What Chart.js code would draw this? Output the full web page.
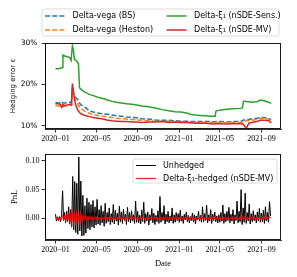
<!DOCTYPE html>
<html>
<head>
<meta charset="utf-8">
<script src="https://cdn.jsdelivr.net/npm/chart.js@4/dist/chart.umd.min.js"></script>
<style>
  html, body { margin: 0; padding: 0; background: #fff; }
  #wrap { position: relative; width: 297px; height: 277px; }
  canvas { position: absolute; left: 0; top: 0; }
</style>
</head>
<body>
<div id="wrap">
  <canvas id="top" width="297" height="277"></canvas>
  <canvas id="bot" width="297" height="277"></canvas>
</div>
<script>
// ---- x axis: days since 2020-01-01 ----
const tickDays = [0, 121, 244, 366, 486, 609];
const tickLabels = ["2020\u221201", "2020\u221205", "2020\u221209", "2021\u221201", "2021\u221205", "2021\u221209"];

// ---- top panel: hedging error (%) ----
const errDays = [0,7,14,16,20,22,28,35,42,46,48,50,53,56,60,65,68,71,76,83,90,100,112,125,140,152,167,180,195,210,226,240,255,275,295,315,335,354,370,388,398,413,428,445,457,472,475,490,507,525,546,553,556,560,566,572,581,595,607,620,630,638];
const errBS = [15.6,15.5,15.5,15.3,15.4,15.6,15.5,15.6,15.7,15.6,
  16.5,18.6,17.8,17.5,16.8,16.4,16.0,15.5,15.0,14.6,
  14.3,13.6,13.3,13.1,12.9,12.8,12.6,12.4,12.3,12.1,
  12.0,11.9,11.7,11.6,11.4,11.3,11.3,11.2,11.1,11.1,
  11.0,11.0,11.0,11.0,11.0,10.9,11.0,11.0,10.9,11.0,
  11.0,11.2,11.4,11.4,11.5,11.5,11.7,11.8,12.0,11.9,
  11.8,11.4];
const errHeston = [14.9,14.8,14.7,14.6,14.5,14.8,14.7,14.9,15.0,15.0,
  16.0,18.3,17.3,16.8,16.0,15.5,15.0,14.6,14.1,13.7,
  13.4,13.0,12.7,12.5,12.3,12.2,12.0,11.8,11.7,11.6,
  11.5,11.4,11.3,11.2,11.1,11.1,11.1,11.0,11.0,10.9,
  10.8,10.8,10.8,10.8,10.8,10.7,10.8,10.8,10.7,10.8,
  10.8,10.9,11.1,11.1,11.2,11.2,11.3,11.5,11.8,11.7,
  11.6,11.2];
const errSens = [23.8,23.8,23.9,24.0,24.1,27.1,26.9,26.7,26.5,25.8,
  25.8,29.3,28.4,26.0,25.9,25.4,25.0,19.2,18.8,18.3,
  18.0,17.6,17.3,16.9,16.6,16.3,15.9,15.7,15.5,15.3,
  15.2,15.0,14.8,14.6,14.3,13.9,13.6,13.4,13.3,13.1,
  12.8,12.6,12.5,12.4,12.3,12.3,13.6,13.8,14.0,14.1,
  14.2,14.3,15.9,15.9,15.8,15.8,15.7,15.8,16.2,16.0,
  15.7,15.4];
const errMV = [15.3,15.3,15.2,14.8,14.6,15.1,14.9,15.0,15.2,15.0,
  17.0,20.2,18.5,16.5,15.0,14.0,13.5,13.2,12.9,12.6,
  12.4,12.2,12.0,11.8,11.6,11.4,11.2,11.1,11.0,11.0,
  10.9,10.9,10.8,10.9,10.9,11.0,10.8,10.9,10.8,10.8,
  10.7,10.6,10.6,10.6,10.5,10.4,10.5,10.5,10.4,10.5,
  10.5,10.4,10.3,9.7,9.6,10.6,10.8,11.0,11.3,11.3,
  11.2,10.7];
const errTicks = [10, 20, 30];

// ---- bottom panel: PnL, one value every 3 days from 2020-01-01 ----
const pnlStartDay = 0, pnlStepDays = 3;
const pnlUnhedged = [0.007,-0.005,0.002,-0.004,0.003,-0.006,0.004,0.048,-0.004,0.010,
  -0.008,0.012,-0.006,0.020,-0.010,0.015,-0.015,0.073,-0.020,0.064,
  -0.025,0.061,-0.028,0.107,-0.022,0.065,-0.031,0.040,-0.030,0.022,
  -0.026,0.035,-0.018,0.028,-0.020,0.024,-0.015,0.031,-0.017,0.020,
  -0.012,0.033,-0.010,0.015,-0.012,0.022,-0.008,0.012,-0.014,0.026,
  -0.009,0.010,-0.006,0.018,-0.011,0.008,-0.007,0.024,-0.010,0.014,
  -0.005,0.009,-0.012,0.021,-0.006,0.011,-0.009,0.016,-0.004,0.007,
  -0.011,0.019,-0.006,0.010,-0.008,0.013,-0.005,0.006,-0.009,0.030,
  -0.007,0.012,-0.008,0.005,-0.010,0.014,-0.006,0.028,-0.009,0.008,
  -0.005,0.011,-0.012,0.006,-0.004,0.017,-0.008,0.009,-0.011,0.005,
  -0.006,0.013,-0.009,0.038,-0.007,0.010,-0.004,0.022,-0.010,0.007,
  -0.006,0.012,-0.008,0.004,-0.005,0.018,-0.009,0.006,-0.007,0.010,
  -0.004,0.008,-0.007,0.014,-0.005,0.004,-0.009,0.007,-0.003,0.011,
  -0.006,0.005,-0.008,0.003,-0.004,0.009,-0.006,0.006,-0.010,0.004,
  -0.003,0.012,-0.005,0.005,-0.007,0.020,-0.006,0.008,-0.004,0.023,
  -0.008,0.006,-0.005,0.015,-0.009,0.007,-0.004,0.011,-0.006,0.004,
  -0.008,0.006,-0.007,0.010,-0.005,0.023,-0.009,0.008,-0.006,0.012,
  -0.004,0.019,-0.008,0.007,-0.005,0.015,-0.010,0.006,-0.004,0.030,
  -0.008,0.012,-0.006,0.050,-0.011,0.018,-0.007,0.044,-0.009,0.010,
  -0.005,0.025,-0.010,0.008,-0.006,0.013,-0.004,0.006,-0.008,0.011,
  -0.005,0.017,-0.007,0.009,-0.006,0.014,-0.009,0.020,-0.005,0.010,
  -0.007,0.029,0.004];
const pnlHedged = [0.001,-0.001,0.002,-0.002,0.001,-0.003,0.002,0.004,-0.002,0.003,
  -0.004,0.005,-0.003,0.004,-0.006,0.006,-0.009,0.008,-0.007,0.010,
  -0.012,0.007,-0.006,0.005,-0.008,0.006,-0.004,0.003,-0.003,0.004,
  -0.002,0.002,-0.003,0.002,-0.001,0.003,-0.002,0.001,-0.002,0.002,
  -0.001,0.002,-0.001,0.001,-0.002,0.001,0.000,-0.001,0.002,-0.001,
  0.001,-0.002,0.001,0.000,-0.001,0.002,-0.001,0.001,-0.002,0.001,
  0.000,-0.001,0.002,-0.002,0.001,0.000,-0.001,0.001,-0.002,0.002,
  -0.001,0.001,0.000,-0.001,0.002,-0.001,0.001,-0.002,0.001,0.002,
  -0.001,0.001,-0.001,0.000,0.002,-0.002,0.001,0.001,-0.001,0.000,
  -0.002,0.002,-0.001,0.001,0.000,-0.001,0.002,-0.001,0.001,-0.002,
  0.001,0.000,-0.001,0.002,-0.001,0.001,-0.002,0.001,0.000,-0.001,
  0.002,-0.001,0.001,-0.002,0.002,0.000,-0.001,0.001,-0.001,0.002,
  -0.002,0.001,0.000,-0.001,0.001,-0.002,0.002,-0.001,0.001,0.000,
  -0.001,0.002,-0.002,0.001,0.000,-0.001,0.001,-0.002,0.002,-0.001,
  0.001,0.000,-0.001,0.002,-0.001,0.001,-0.002,0.001,0.000,-0.001,
  0.002,-0.002,0.001,0.000,-0.001,0.002,-0.001,0.001,-0.002,0.001,
  0.000,-0.001,0.002,-0.001,0.001,-0.002,0.002,0.000,-0.001,0.001,
  -0.002,0.001,0.000,-0.001,0.002,-0.001,0.001,-0.002,0.001,0.002,
  -0.001,0.000,0.003,-0.002,0.002,-0.001,0.001,0.003,-0.002,0.001,
  0.000,-0.001,0.002,-0.001,0.001,-0.002,0.001,0.000,-0.001,0.002,
  -0.001,0.001,-0.002,0.002,0.000,-0.001,0.001,-0.002,0.002,-0.001,
  0.001,0.002,0.001];
const pnlTicks = [0, 0.05, 0.10];

// ---- helpers ----
const xy = (xs, ys) => ys.map((v, i) => ({ x: xs[i], y: v }));
const stepXY = (start, step, ys) => ys.map((v, i) => ({ x: start + i * step, y: v }));

const framePlugin = {
  id: 'frame',
  afterDraw(chart) {
    const { ctx, chartArea: a } = chart;
    ctx.save();
    ctx.strokeStyle = '#000';
    ctx.lineWidth = 0.9;
    ctx.strokeRect(Math.round(a.left) + 0.5, Math.round(a.top) + 0.5,
                   Math.round(a.right - a.left) - 1, Math.round(a.bottom - a.top) - 1);
    ctx.restore();
  }
};

const boxLegend = {
  id: 'boxLegend',
  afterDraw(chart, args, o) {
    const ctx = chart.ctx;
    ctx.save();
    const b = o.box, r = 2;
    ctx.beginPath();
    ctx.moveTo(b.x + r, b.y);
    ctx.arcTo(b.x + b.w, b.y, b.x + b.w, b.y + b.h, r);
    ctx.arcTo(b.x + b.w, b.y + b.h, b.x, b.y + b.h, r);
    ctx.arcTo(b.x, b.y + b.h, b.x, b.y, r);
    ctx.arcTo(b.x, b.y, b.x + b.w, b.y, r);
    ctx.closePath();
    ctx.fillStyle = 'rgba(255,255,255,0.85)';
    ctx.fill();
    ctx.strokeStyle = '#d4d4d4';
    ctx.lineWidth = 0.8;
    ctx.stroke();
    o.items.forEach(it => {
      const ds = chart.data.datasets[it.index];
      ctx.beginPath();
      ctx.setLineDash(ds.borderDash || []);
      ctx.strokeStyle = ds.borderColor;
      ctx.lineWidth = ds.borderWidth;
      ctx.moveTo(it.x, it.y);
      ctx.lineTo(it.x + o.handle, it.y);
      ctx.stroke();
      ctx.setLineDash([]);
      ctx.fillStyle = '#000';
      ctx.font = o.font;
      ctx.textBaseline = 'middle';
      ctx.textAlign = 'left';
      ctx.fillText(ds.label, it.x + o.handle + o.gap, it.y);
    });
    ctx.restore();
  }
};

function xScale(height, title) {
  return {
    type: 'linear', min: -31, max: 667,
    afterFit: s => { s.height = height; },
    afterBuildTicks: s => { s.ticks = tickDays.map(v => ({ value: v })); },
    ticks: {
      callback: v => tickLabels[tickDays.indexOf(v)] || '',
      font: { family: 'Liberation Serif', size: 8 }, color: '#000',
      padding: 1.5, maxRotation: 0, autoSkip: false
    },
    grid: { drawOnChartArea: false, drawTicks: true, tickLength: 3.5, color: '#000', lineWidth: 0.8 },
    border: { display: true, color: '#000', width: 0.8 },
    title: title
  };
}

Chart.defaults.font.family = 'DejaVu Sans';
Chart.defaults.color = '#000';

new Chart(document.getElementById('top'), {
  type: 'line',
  data: {
    datasets: [
      { label: 'Delta-vega (BS)', data: xy(errDays, errBS), borderColor: '#1f77b4', borderDash: [5, 2.2], borderWidth: 1.5, order: 4 },
      { label: 'Delta-vega (Heston)', data: xy(errDays, errHeston), borderColor: '#ff7f0e', borderDash: [5, 2.2], borderWidth: 1.5, order: 3 },
      { label: 'Delta-\u03be\u2081 (nSDE-Sens.)', data: xy(errDays, errSens), borderColor: '#2ca02c', borderWidth: 1.5, order: 2 },
      { label: 'Delta-\u03be\u2081 (nSDE-MV)', data: xy(errDays, errMV), borderColor: '#d62728', borderWidth: 1.5, order: 1 }
    ]
  },
  options: {
    responsive: false, animation: false,
    elements: { point: { radius: 0 }, line: { tension: 0, fill: false } },
    layout: { padding: { left: 0, top: 43, right: 16, bottom: 128 } },
    plugins: {
      legend: { display: false }, tooltip: { enabled: false },
      boxLegend: {
        box: { x: 42, y: 9, w: 237, h: 27 }, handle: 20, gap: 7.5,
        font: '8px "DejaVu Sans"',
        items: [ { index: 0, x: 45, y: 16 }, { index: 1, x: 45, y: 30 },
                 { index: 2, x: 166.5, y: 16 }, { index: 3, x: 166.5, y: 30 } ]
      }
    },
    scales: {
      x: xScale(20, { display: false }),
      y: {
        type: 'linear', min: 9.2, max: 30.05,
        afterFit: s => { s.width = 45; },
        afterBuildTicks: s => { s.ticks = errTicks.map(v => ({ value: v })); },
        ticks: { callback: v => v + '%', font: { family: 'DejaVu Sans', size: 7.5 }, color: '#000', padding: 4 },
        grid: { drawOnChartArea: false, drawTicks: true, tickLength: 3.5, color: '#000', lineWidth: 0.8 },
        border: { display: true, color: '#000', width: 0.8 },
        title: { display: true, text: 'Hedging error \u03b5', font: { family: 'DejaVu Sans', size: 7 }, color: '#000', padding: { top: 8.5, bottom: 0 } }
      }
    }
  },
  plugins: [framePlugin, boxLegend]
});

new Chart(document.getElementById('bot'), {
  type: 'line',
  data: {
    datasets: [
      { label: 'Unhedged', data: stepXY(pnlStartDay, pnlStepDays, pnlUnhedged), borderColor: '#000', borderWidth: 1, order: 2 },
      { label: 'Delta-\u03be\u2081-hedged (nSDE-MV)', data: stepXY(pnlStartDay, pnlStepDays, pnlHedged), borderColor: 'rgba(255,0,0,0.85)', borderWidth: 1.3, order: 1 }
    ]
  },
  options: {
    responsive: false, animation: false,
    elements: { point: { radius: 0 }, line: { tension: 0, fill: false } },
    layout: { padding: { left: 0, top: 154, right: 16, bottom: 0 } },
    plugins: {
      legend: { display: false }, tooltip: { enabled: false },
      boxLegend: {
        box: { x: 133, y: 159, w: 144, h: 24 }, handle: 20, gap: 7,
        font: '8px "DejaVu Sans"',
        items: [ { index: 0, x: 136, y: 165.5 }, { index: 1, x: 136, y: 178.5 } ]
      }
    },
    scales: {
      x: xScale(37, { display: true, text: 'Date', font: { family: 'Liberation Serif', size: 8.5 }, color: '#000', padding: { top: 0, bottom: 8.2 } }),
      y: {
        type: 'linear', min: -0.038, max: 0.1122,
        afterFit: s => { s.width = 45; },
        afterBuildTicks: s => { s.ticks = pnlTicks.map(v => ({ value: v })); },
        ticks: { callback: v => v.toFixed(2), font: { family: 'Liberation Serif', size: 8 }, color: '#000', padding: 2 },
        grid: { drawOnChartArea: false, drawTicks: true, tickLength: 3.5, color: '#000', lineWidth: 0.8 },
        border: { display: true, color: '#000', width: 0.8 },
        title: { display: true, text: 'PnL', font: { family: 'Liberation Serif', size: 8.5 }, color: '#000', padding: { top: 9.5, bottom: 0 } }
      }
    }
  },
  plugins: [framePlugin, boxLegend]
});
</script>
</body>
</html>
